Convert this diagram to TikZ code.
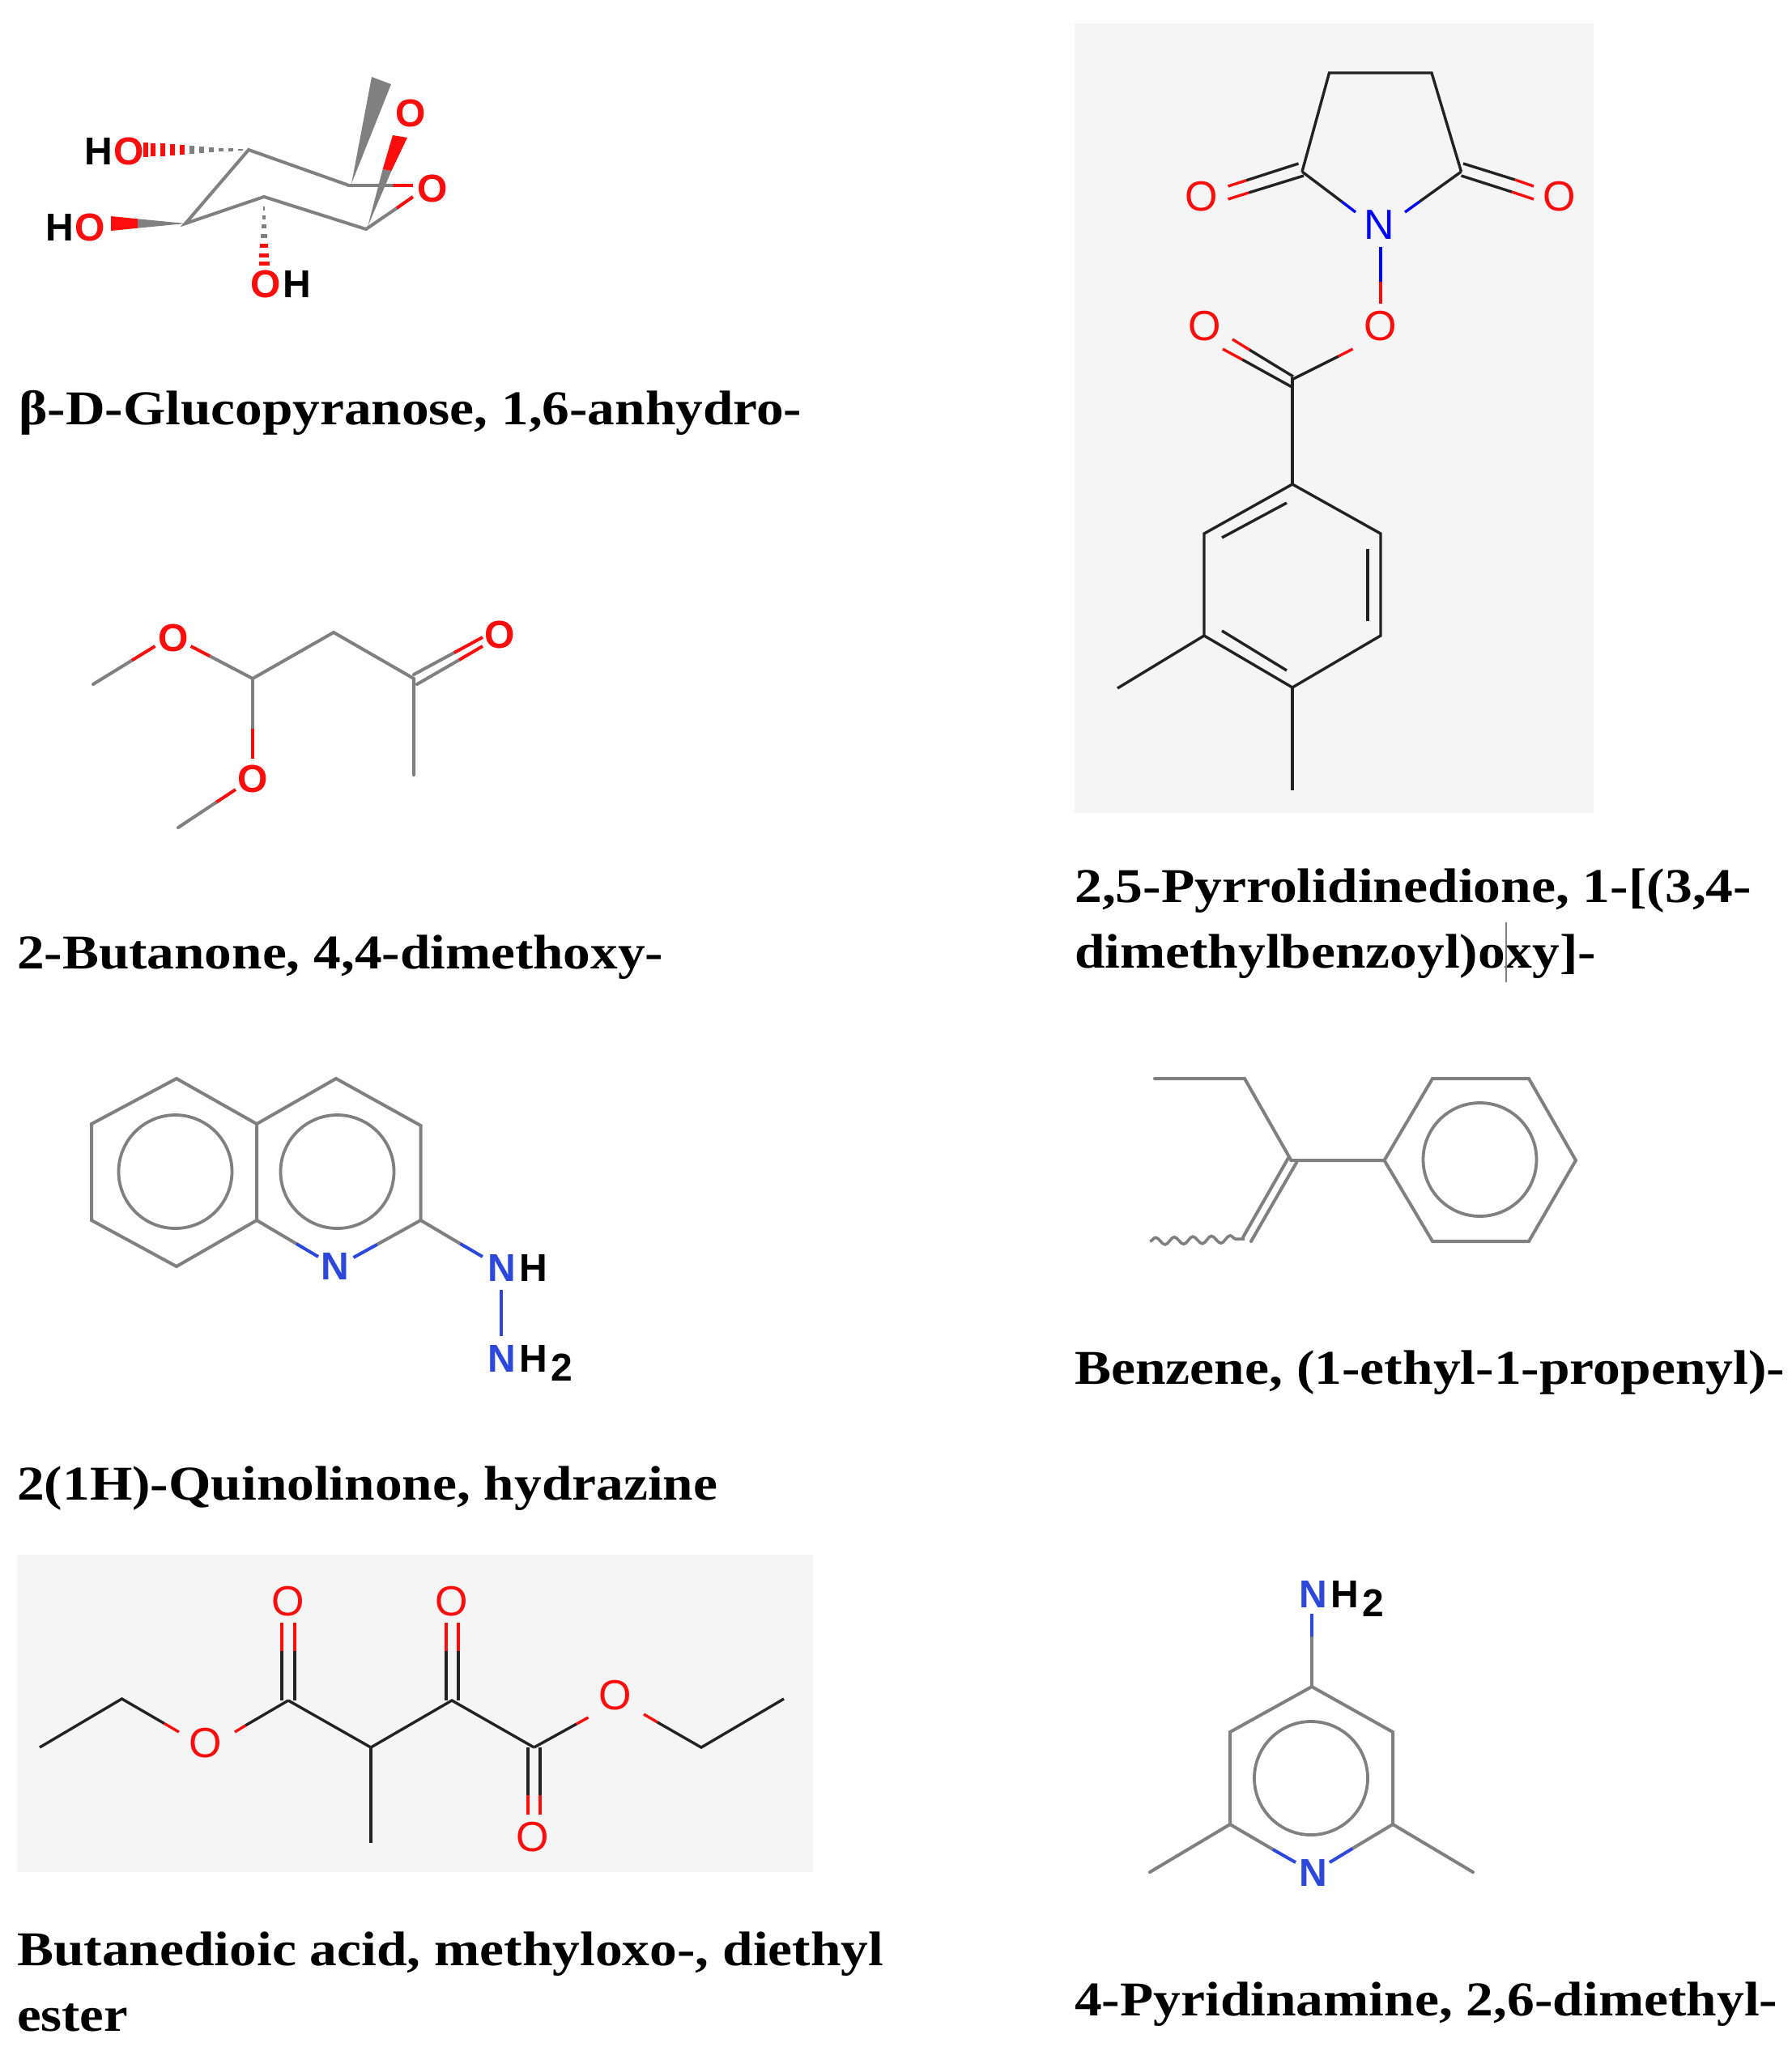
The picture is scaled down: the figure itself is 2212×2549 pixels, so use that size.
\documentclass[tikz,border=0pt]{standalone}
\usepackage{fontspec}
\usepackage{graphicx}
\setmainfont{Liberation Serif}
\newfontfamily\labsans{Liberation Sans}
\usetikzlibrary{decorations.pathmorphing}
\definecolor{gb}{HTML}{808080}
\definecolor{rd}{HTML}{FF0D0D}
\definecolor{bl}{HTML}{2D48DC}
\definecolor{pb}{HTML}{0000FF}
\definecolor{dk}{HTML}{222222}
\definecolor{panel}{HTML}{F5F5F5}
\tikzset{
  gbond/.style={draw=gb,line width=4pt,line cap=round,line join=miter},
  rbond/.style={draw=rd,line width=4pt},
  bbond/.style={draw=bl,line width=4pt},
  kbond/.style={draw=dk,line width=3.4pt,line join=miter},
  rthin/.style={draw=rd,line width=3.4pt},
  pthin/.style={draw=pb,line width=3.4pt},
  atomB/.style={font=\labsans\bfseries\fontsize{48pt}{48pt}\selectfont,inner sep=0pt},
  atomR/.style={font=\labsans\fontsize{52pt}{52pt}\selectfont,inner sep=0pt},
  capt/.style={font=\bfseries\fontsize{60pt}{60pt}\selectfont,inner sep=0pt,anchor=base west},
  panelbox/.style={fill=panel,draw=none},
  ring/.style={draw=gb,line width=3.8pt}
}
\newcommand{\capw}[2]{\resizebox{#1pt}{\height}{#2}}
\begin{document}
\begin{tikzpicture}[x=1pt,y=-1pt]
\useasboundingbox (0,0) rectangle (2212,2549);
% panels
\fill[panelbox] (1326.5,29) rectangle (1968,1004);
\fill[panelbox] (21,1920) rectangle (1004,2312);

%% ---- molecule 1
\coordinate (a1) at (307,185); \coordinate (a2) at (431,229); \coordinate (a3) at (473,229);
\coordinate (a4) at (452,283); \coordinate (a5) at (326,243); \coordinate (a6) at (229,276);
\node[atomB,anchor=base west] (ho1) at (104,203) {H\kern2pt\textcolor{rd}{O}};
\node[atomB,anchor=base west] (ho2) at (56,297) {H\kern2pt\textcolor{rd}{O}};
\node[atomB,anchor=base west] (oh1) at (309,367) {\textcolor{rd}{O}\kern3ptH};
\node[atomB,text=rd] (o1r) at (534,233) {O};
\node[atomB,text=rd] (o1t) at (507,140) {O};
\draw[gbond] (a2) -- (a1) -- (a6) -- (a5) -- (a4);
\draw[gbond] (a2) -- (a3);
\draw[rbond] (484,229) -- (510,229);
\draw[gbond] (a3) -- (484,229);
\draw[gbond] (a4) -- (490,257);
\draw[rbond] (490,257) -- (510,243);
% wedges
\fill[gb] (434,227) -- (459,95) -- (483,104) -- cycle;
\fill[gb] (454,280) -- (472.6,209) -- (483.4,211) -- cycle;
\fill[rd] (472.6,209) -- (485,167) -- (503,170) -- (483.4,211) -- cycle;
\fill[gb] (229,276) -- (170,270.3) -- (170,281.7) -- cycle;
\fill[rd] (170,270.3) -- (137,267) -- (137,285) -- (170,281.7) -- cycle;
% hashed wedges
\foreach \x/\h in {297/1,285/1.8,273/2.4,261/3.2,249/4,237/4.8}{\fill[gb] (\x-3,185-\h) rectangle (\x+3,185+\h);}
\foreach \x/\h in {225/6,213/6.8,201/7.6,189/8.4,180/9}{\fill[rd] (\x-3,185-\h) rectangle (\x+3,185+\h);}
\foreach \y/\h in {257/1,268/2,279/3,291/3.8}{\fill[gb] (326-\h,\y-2.5) rectangle (326+\h,\y+2.5);}
\foreach \y/\h in {303/4.8,315/5.6,325/6.5}{\fill[rd] (326-\h,\y-2.5) rectangle (326+\h,\y+2.5);}

%% ---- molecule 2
\node[atomB,text=rd] (o21) at (214.5,788) {O};
\node[atomB,text=rd] (o22) at (312,962) {O};
\node[atomB,text=rd] (o23) at (617,784) {O};
\coordinate (b0) at (115,845); \coordinate (b1) at (312,838); \coordinate (b2) at (412,781);
\coordinate (b3) at (511,838); \coordinate (b4) at (511,957); \coordinate (b5) at (220,1022);
\draw[gbond] (b0) -- (163,815.5); \draw[rbond] (163,815.5) -- (191.5,798);
\draw[rbond] (235.6,798) -- (260.5,811); \draw[gbond] (260.5,811) -- (b1);
\draw[gbond] (b1) -- (b2) -- (b3) -- (b4);
\draw[gbond] (b1) -- (312,900); \draw[rbond] (312,900) -- (312,937);
\draw[rbond] (291,975) -- (266,991.5); \draw[gbond] (266,991.5) -- (b5);
\draw[gbond] (511,833) -- (561,806); \draw[rbond] (561,806) -- (596,787);
\draw[gbond] (515,845) -- (567,815); \draw[rbond] (567,815) -- (596,798);

%% ---- molecule 3
\coordinate (c1) at (218,1332); \coordinate (c2) at (113,1388); \coordinate (c3) at (113,1507);
\coordinate (c4) at (218,1564); \coordinate (c5) at (317,1507); \coordinate (c6) at (317,1388);
\coordinate (c7) at (415,1332); \coordinate (c8) at (519.5,1390); \coordinate (c9) at (519.5,1507);
\node[atomB,text=bl] (n31) at (414,1564) {N};
\node[atomB,anchor=base west] (n32) at (602,1582) {\textcolor{bl}{N}\kern5ptH};
\node[atomB,anchor=base west] (n33) at (602,1694) {\textcolor{bl}{N}\kern5ptH\raisebox{-11pt}{\kern4pt 2}};
\draw[gbond] (c6) -- (c1) -- (c2) -- (c3) -- (c4) -- (c5) -- (c6) -- (c7) -- (c8) -- (c9);
\draw[ring] (216.5,1447) circle (70);
\draw[ring] (416.5,1447) circle (70);
\draw[gbond] (c5) -- (366,1536); \draw[bbond] (366,1536) -- (393,1552);
\draw[gbond] (c9) -- (465.5,1537); \draw[bbond] (465.5,1537) -- (436.5,1553);
\draw[gbond] (c9) -- (568.5,1536); \draw[bbond] (568.5,1536) -- (596,1552);
\draw[bbond] (619,1593) -- (619,1650);

%% ---- molecule 4
\coordinate (d1) at (1641.5,90); \coordinate (d2) at (1768,90); \coordinate (d3) at (1804.5,212);
\coordinate (d4) at (1608,212); \coordinate (d5) at (1597,468);
\coordinate (e1) at (1596,598); \coordinate (e2) at (1487,659); \coordinate (e3) at (1487,785);
\coordinate (e4) at (1596,849); \coordinate (e5) at (1705,785); \coordinate (e6) at (1705,659);
\coordinate (e7) at (1380,850); \coordinate (e8) at (1596,976);
\node[atomR,text=pb] (n4) at (1703,278) {N};
\node[atomR,text=rd] (o41) at (1484,243) {O};
\node[atomR,text=rd] (o42) at (1926,243) {O};
\node[atomR,text=rd] (o43) at (1705,403) {O};
\node[atomR,text=rd] (o44) at (1488,403) {O};
\draw[kbond] (d4) -- (d1) -- (d2) -- (d3);
\draw[kbond] (1603.5,202) -- (1539,222.8); \draw[rthin] (1539,222.8) -- (1516.5,230);
\draw[kbond] (1610,217) -- (1542,238); \draw[rthin] (1542,238) -- (1516.5,246);
\draw[kbond] (1807,202) -- (1871,222); \draw[rthin] (1871,222) -- (1894,230);
\draw[kbond] (1804.5,217) -- (1867,237); \draw[rthin] (1867,237) -- (1894,246);
\draw[kbond] (d4) -- (1657,249); \draw[pthin] (1657,249) -- (1674,262);
\draw[kbond] (d3) -- (1753,249); \draw[pthin] (1753,249) -- (1735,262);
\draw[pthin] (1705,305) -- (1705,348); \draw[rthin] (1705,348) -- (1705,375);
\draw[kbond] (d5) -- (1653,440); \draw[rthin] (1653,440) -- (1670.5,431);
\draw[kbond] (1597,465) -- (1543,432); \draw[rthin] (1543,432) -- (1522,419);
\draw[kbond] (1595.5,478) -- (1534,444); \draw[rthin] (1534,444) -- (1510,431);
\draw[kbond] (1596,466) -- (e1);
\draw[kbond] (e1) -- (e2) -- (e3) -- (e4) -- (e5) -- (e6) -- cycle;
\draw[kbond] (1509,664) -- (1589,621);
\draw[kbond] (1689,678) -- (1689,767);
\draw[kbond] (1509,779) -- (1589,828);
\draw[kbond] (e3) -- (e7);
\draw[kbond] (e4) -- (e8);

%% ---- molecule 5
\coordinate (f0) at (49,2158); \coordinate (f1) at (150.5,2098); \coordinate (f2) at (356,2100);
\coordinate (f3) at (458,2158); \coordinate (f4) at (458,2276); \coordinate (f5) at (558,2100);
\coordinate (f6) at (659.5,2158); \coordinate (f7) at (866,2158); \coordinate (f8) at (968,2098);
\node[atomR,text=rd] (o51) at (254,2153) {O};
\node[atomR,text=rd] (o52) at (356,1978) {O};
\node[atomR,text=rd] (o53) at (558,1978) {O};
\node[atomR,text=rd] (o54) at (658,2269) {O};
\node[atomR,text=rd] (o55) at (760,2094) {O};
\draw[kbond] (f0) -- (f1) -- (203,2128.5); \draw[rthin] (203,2128.5) -- (221,2139);
\draw[kbond] (f2) -- (303,2131); \draw[rthin] (303,2131) -- (290,2139);
\draw[kbond] (f2) -- (f3) -- (f5) -- (f6);
\draw[kbond] (f3) -- (f4);
\draw[kbond] (348,2100) -- (348,2039); \draw[rthin] (348,2039) -- (348,2004);
\draw[kbond] (364,2100) -- (364,2039); \draw[rthin] (364,2039) -- (364,2004);
\draw[kbond] (551,2100) -- (551,2039); \draw[rthin] (551,2039) -- (551,2004);
\draw[kbond] (566,2100) -- (566,2039); \draw[rthin] (566,2039) -- (566,2004);
\draw[kbond] (652,2158) -- (652,2217); \draw[rthin] (652,2217) -- (652,2241);
\draw[kbond] (667,2158) -- (667,2217); \draw[rthin] (667,2217) -- (667,2241);
\draw[kbond] (f6) -- (712,2129); \draw[rthin] (712,2129) -- (726.5,2121);
\draw[rthin] (795,2117) -- (812,2127); \draw[kbond] (812,2127) -- (f7) -- (f8);

%% ---- molecule 6
\coordinate (g0) at (1426,1332); \coordinate (g1) at (1537,1332); \coordinate (g2) at (1594.5,1433);
\coordinate (g3) at (1709.5,1433); \coordinate (g4) at (1769,1332); \coordinate (g5) at (1888,1332);
\coordinate (g6) at (1946,1433); \coordinate (g7) at (1888,1533); \coordinate (g8) at (1769,1533);
\draw[gbond] (g0) -- (g1) -- (g2) -- (g3);
\draw[gbond] (g3) -- (g4) -- (g5) -- (g6) -- (g7) -- (g8) -- cycle;
\draw[ring] (1827.5,1432) circle (70);
\draw[gbond] (1591,1430) -- (1535,1528);
\draw[gbond] (1601.5,1435) -- (1545,1533);
\draw[gb,line width=3.6pt,decorate,decoration={snake,segment length=23pt,amplitude=4.5pt}] (1420,1533) -- (1537,1530);

%% ---- molecule 7
\coordinate (h1) at (1620,2083); \coordinate (h2) at (1519,2139); \coordinate (h3) at (1519,2253);
\coordinate (h4) at (1720,2253); \coordinate (h5) at (1720,2139);
\coordinate (h6) at (1420,2312); \coordinate (h7) at (1819,2312);
\node[atomB,text=bl] (n71) at (1622,2313) {N};
\node[atomB,anchor=base west] (n72) at (1604,1985) {\textcolor{bl}{N}\kern5ptH\raisebox{-11pt}{\kern4pt 2}};
\draw[bbond] (1620,1993) -- (1620,2023); \draw[gbond] (1620,2023) -- (h1);
\draw[gbond] (h4) -- (h5) -- (h1) -- (h2) -- (h3);
\draw[ring] (1619,2196) circle (70);
\draw[gbond] (h3) -- (1572,2284); \draw[bbond] (1572,2284) -- (1600,2300);
\draw[gbond] (h4) -- (1670,2283); \draw[bbond] (1670,2283) -- (1642,2300);
\draw[gbond] (h3) -- (h6);
\draw[gbond] (h4) -- (h7);

%% ---- captions
\node[capt] (t1) at (23,524) {\capw{967}{β-D-Glucopyranose, 1,6-anhydro-}};
\node[capt] (t2) at (21,1196) {\capw{798}{2-Butanone, 4,4-dimethoxy-}};
\node[capt] (t3) at (21,1852) {\capw{865}{2(1H)-Quinolinone, hydrazine}};
\node[capt] (t4) at (21,2427) {\capw{1070}{Butanedioic acid, methyloxo-, diethyl}};
\node[capt] (t4b) at (21,2508) {\capw{137}{ester}};
\node[capt] (t5) at (1327,1114) {\capw{836}{2,5-Pyrrolidinedione, 1-[(3,4-}};
\node[capt] (t5b) at (1327,1195) {\capw{644}{dimethylbenzoyl)oxy]-}};
\node[capt] (t6) at (1327,1709) {\capw{877}{Benzene, (1-ethyl-1-propenyl)-}};
\node[capt] (t7) at (1327,2489) {\capw{868}{4-Pyridinamine, 2,6-dimethyl-}};
\draw[draw=gb,line width=2pt] (1860,1139) -- (1860,1213);
\end{tikzpicture}
\end{document}
